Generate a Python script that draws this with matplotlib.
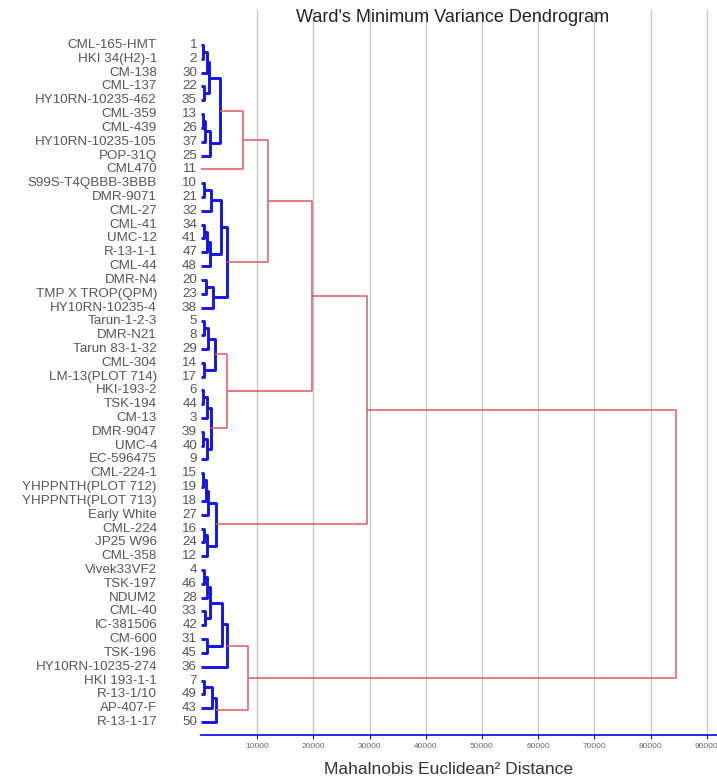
import matplotlib
matplotlib.use("Agg")
import matplotlib.pyplot as plt
from matplotlib.transforms import blended_transform_factory

# leaves, top to bottom as drawn
LEAF_IDS = [1, 2, 30, 22, 35, 13, 26, 37, 25, 11,
            10, 21, 32, 34, 41, 47, 48, 20, 23, 38,
            5, 8, 29, 14, 17, 6, 44, 3, 39, 40, 9,
            15, 19, 18, 27, 16, 24, 12,
            4, 46, 28, 33, 42, 31, 45, 36,
            7, 49, 43, 50]
LEAF_NAMES = ["CML-165-HMT", "HKI 34(H2)-1", "CM-138", "CML-137", "HY10RN-10235-462",
              "CML-359", "CML-439", "HY10RN-10235-105", "POP-31Q", "CML470",
              "S99S-T4QBBB-3BBB", "DMR-9071", "CML-27", "CML-41", "UMC-12",
              "R-13-1-1", "CML-44", "DMR-N4", "TMP X TROP(QPM)", "HY10RN-10235-4",
              "Tarun-1-2-3", "DMR-N21", "Tarun 83-1-32", "CML-304", "LM-13(PLOT 714)",
              "HKI-193-2", "TSK-194", "CM-13", "DMR-9047", "UMC-4", "EC-596475",
              "CML-224-1", "YHPPNTH(PLOT 712)", "YHPPNTH(PLOT 713)", "Early White",
              "CML-224", "JP25 W96", "CML-358",
              "Vivek33VF2", "TSK-197", "NDUM2", "CML-40", "IC-381506", "CM-600",
              "TSK-196", "HY10RN-10235-274",
              "HKI 193-1-1", "R-13-1/10", "AP-407-F", "R-13-1-17"]

# (node, left, right, merge distance)
MERGES = [
    ("a1", 1, 2, 360), ("a2", "a1", 30, 990), ("a3", 22, 35, 450),
    ("a4", "a2", "a3", 1350), ("a5", 13, 26, 360), ("a6", "a5", 37, 630),
    ("a7", "a6", 25, 1530), ("A", "a4", "a7", 3320), ("A11", "A", 11, 7480),
    ("b1", 10, 21, 450), ("b2", "b1", 32, 1700), ("b3", 34, 41, 540),
    ("b4", "b3", 47, 990), ("b5", "b4", 48, 1530), ("b6", "b2", "b5", 3500),
    ("b7", 20, 23, 810), ("b8", "b7", 38, 2060), ("B", "b6", "b8", 4580),
    ("AB", "A11", "B", 11930),
    ("c1", 5, 8, 450), ("c2", "c1", 29, 1170), ("c3", 14, 17, 450),
    ("C", "c2", "c3", 2420),
    ("d1", 6, 44, 270), ("d2", "d1", 3, 990), ("d3", 39, 40, 270),
    ("d4", "d3", 9, 1080), ("D", "d2", "d4", 1710),
    ("CD", "C", "D", 4580), ("ABCD", "AB", "CD", 19760),
    ("e1", 15, 19, 360), ("e2", "e1", 18, 810), ("e3", "e2", 27, 1170),
    ("e4", 16, 24, 450), ("e5", "e4", 12, 990), ("E", "e3", "e5", 2600),
    ("ABCDE", "ABCD", "E", 29550),
    ("f1", 4, 46, 450), ("f2", "f1", 28, 990), ("f3", 33, 42, 630),
    ("f4", "f2", "f3", 1530), ("f5", 31, 45, 990), ("f6", "f4", "f5", 3680),
    ("F", "f6", 36, 4580),
    ("g1", 7, 49, 540), ("g2", "g1", 43, 1880), ("G", "g2", 50, 2600),
    ("FG", "F", "G", 8370), ("root", "ABCDE", "FG", 84500),
]
BLUE_CLUSTERS = ["A", "B", "C", "D", "E", "F", "G"]

XTICKS = [10000, 20000, 30000, 40000, 50000, 60000, 70000, 80000, 90000]

BLUE = "#1414e6"
RED = "#e2585c"
GREY = "#555555"

# node positions
ypos = {leaf: i for i, leaf in enumerate(LEAF_IDS)}
height = {leaf: 0 for leaf in LEAF_IDS}
children = {}
for node, left, right, h in MERGES:
    ypos[node] = (ypos[left] + ypos[right]) / 2
    height[node] = h
    children[node] = (left, right)

blue_nodes = set()
for root in BLUE_CLUSTERS:
    stack = [root]
    while stack:
        n = stack.pop()
        if n in children:
            blue_nodes.add(n)
            stack.extend(children[n])

W, H = 717, 778
fig = plt.figure(figsize=(W / 100, H / 100), dpi=100)
left_px, top_px, bottom_px = 201, 10, 735
ax = fig.add_axes([left_px / W, 1 - bottom_px / H, 1 - left_px / W, (bottom_px - top_px) / H])

xmax = (W - left_px) / 56.2 * 10000
ax.set_xlim(0, xmax)
step = 49 / (722 - 45)
ax.set_ylim(49 + (bottom_px - 722) * step, -(45 - top_px) * step)

for x in XTICKS:
    ax.axvline(x, color="#c4c4c4", lw=0.9, zorder=1)

for node, left, right, h in MERGES:
    col = BLUE if node in blue_nodes else RED
    lw = 2.1 if node in blue_nodes else 1.1
    ax.plot([height[left], h, h, height[right]],
            [ypos[left], ypos[left], ypos[right], ypos[right]],
            color=col, lw=lw, solid_capstyle="butt", zorder=3)

trans = blended_transform_factory(fig.transFigure, ax.transData)
for i, (lid, name) in enumerate(zip(LEAF_IDS, LEAF_NAMES)):
    fig.text(157 / W, i, name, transform=trans, ha="right", va="center",
             fontsize=9.6, color=GREY, family="Liberation Sans")
    fig.text(197 / W, i, str(lid), transform=trans, ha="right", va="center",
             fontsize=9.6, color=GREY, family="Liberation Sans")

for s in ["top", "right", "left"]:
    ax.spines[s].set_visible(False)
ax.spines["bottom"].set_color(BLUE)
ax.spines["bottom"].set_linewidth(1.3)
ax.set_yticks([])
ax.set_xticks(XTICKS)
ax.set_xticklabels([str(x) for x in XTICKS], fontsize=6, color="#666666",
                   family="Liberation Sans")
ax.tick_params(axis="x", colors=BLUE, length=3, width=0.8, pad=3, labelcolor="#666666")

fig.text(453 / W, 1 - 17.5 / H, "Ward's Minimum Variance Dendrogram", ha="center",
         va="center", fontsize=13, color="#222222", family="Liberation Sans")
fig.text(449 / W, 1 - 770 / H, "Mahalnobis Euclidean² Distance", ha="center",
         va="center", fontsize=12.5, color="#333333", family="Liberation Sans")

fig.savefig("out.png", dpi=100)
